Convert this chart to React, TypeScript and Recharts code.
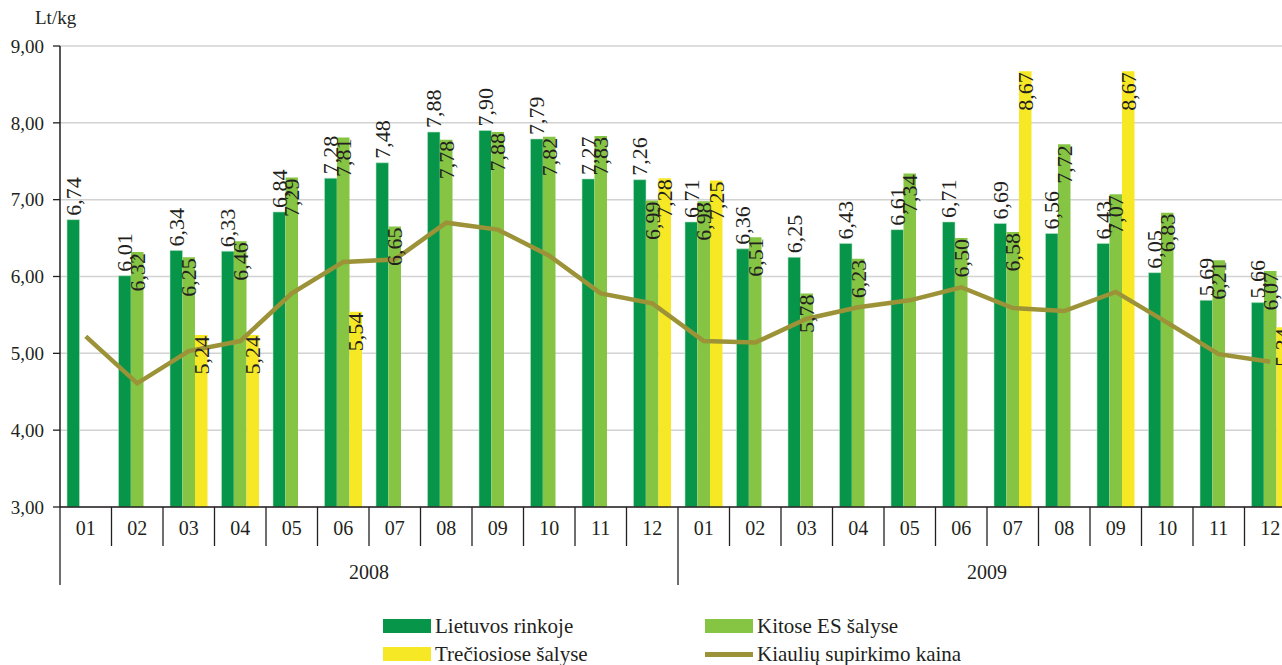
import {
  Bar,
  CartesianGrid,
  ComposedChart,
  LabelList,
  Legend,
  Line,
  XAxis,
  YAxis,
} from "recharts";

const years = ["2008", "2009"];
const months = ["01", "02", "03", "04", "05", "06", "07", "08", "09", "10", "11", "12"];

const lietuvos = [
  6.74, 6.01, 6.34, 6.33, 6.84, 7.28, 7.48, 7.88, 7.9, 7.79, 7.27, 7.26,
  6.71, 6.36, 6.25, 6.43, 6.61, 6.71, 6.69, 6.56, 6.43, 6.05, 5.69, 5.66,
];
const kitoseEs = [
  null, 6.32, 6.25, 6.46, 7.29, 7.81, 6.65, 7.78, 7.88, 7.82, 7.83, 6.99,
  6.98, 6.51, 5.78, 6.23, 7.34, 6.5, 6.58, 7.72, 7.07, 6.83, 6.21, 6.07,
];
const treciosios = [
  null, null, 5.24, 5.24, null, 5.54, null, null, null, null, null, 7.28,
  7.25, null, null, null, null, null, 8.67, null, 8.67, null, null, 5.34,
];
const supirkimoKaina = [
  5.22, 4.61, 5.03, 5.16, 5.78, 6.19, 6.22, 6.7, 6.61, 6.27, 5.78, 5.65,
  5.16, 5.14, 5.45, 5.6, 5.69, 5.86, 5.59, 5.55, 5.8, 5.4, 4.99, 4.89,
];
const yTicks = [3, 4, 5, 6, 7, 8, 9];
const legendOrder = [
  "Lietuvos rinkoje",
  "Kitose ES šalyse",
  "Trečiosiose šalyse",
  "Kiaulių supirkimo kaina",
];

const data = years.flatMap((year, yi) =>
  months.map((month, mi) => {
    const i = yi * 12 + mi;
    return {
      id: `${year}-${month}`,
      year,
      month,
      lietuvos: lietuvos[i],
      kitoseEs: kitoseEs[i],
      treciosios: treciosios[i],
      supirkimoKaina: supirkimoKaina[i],
    };
  })
);

const SERIF = "'Liberation Serif', 'Times New Roman', serif";
const TEXT = "#231f20";
const CHART_W = 1300;
const CHART_H = 665;
const AXIS_W = 60;
const RIGHT = 4;
const BAND = (CHART_W - AXIS_W - RIGHT) / data.length;

const fmt = (v: number) => v.toFixed(2).replace(".", ",");

function MonthTick({ x, y, payload, index }: any) {
  const row = data[index] ?? data[payload.index];
  const left = x - BAND / 2;
  const firstOfYear = row.month === "01";
  return (
    <g>
      <line
        x1={left}
        x2={left}
        y1={y}
        y2={y + (firstOfYear ? 78 : 39)}
        stroke={TEXT}
        strokeWidth={1.3}
      />
      <text x={x} y={y + 28} textAnchor="middle" fontFamily={SERIF} fontSize={20} fill={TEXT}>
        {row.month}
      </text>
      {row.month === "06" && (
        <text x={x + BAND / 2} y={y + 72} textAnchor="middle" fontFamily={SERIF} fontSize={20} fill={TEXT}>
          {row.year}
        </text>
      )}
    </g>
  );
}

function OutsideLabel({ x, y, width, value }: any) {
  if (value == null) return null;
  const cx = x + width / 2;
  const ty = y - 4;
  return (
    <text
      x={cx}
      y={ty}
      transform={`rotate(-90 ${cx} ${ty})`}
      textAnchor="start"
      dominantBaseline="central"
      fontFamily={SERIF}
      fontSize={22}
      fill={TEXT}
    >
      {fmt(value)}
    </text>
  );
}

function InsideLabel({ x, y, width, value }: any) {
  if (value == null) return null;
  const cx = x + width / 2;
  const ty = y + 1;
  return (
    <text
      x={cx}
      y={ty}
      transform={`rotate(-90 ${cx} ${ty})`}
      textAnchor="end"
      dominantBaseline="central"
      fontFamily={SERIF}
      fontSize={22}
      fill={TEXT}
    >
      {fmt(value)}
    </text>
  );
}

function UnitLabel() {
  return (
    <text x={35} y={24} fontFamily={SERIF} fontSize={19} fill={TEXT}>
      Lt/kg
    </text>
  );
}

function LegendBox({ payload }: any) {
  const cols = [383, 705];
  const rows = [626, 654];
  const items = [...(payload || [])].sort(
    (a: any, b: any) => legendOrder.indexOf(a.value) - legendOrder.indexOf(b.value)
  );
  return (
    <div style={{ position: "relative", width: 1282, height: 56 }}>
      {items.map((p: any, i: number) => {
        const left = cols[i % 2];
        const cy = rows[Math.floor(i / 2)] - 612;
        const isLine = p.type === "line";
        const sh = isLine ? 5 : 14;
        return (
          <div key={p.value}>
            <div
              style={{
                position: "absolute",
                left,
                top: cy - sh / 2,
                width: 48,
                height: sh,
                background: p.color,
              }}
            />
            <div
              style={{
                position: "absolute",
                left: left + 52,
                top: cy - 13,
                fontFamily: SERIF,
                fontSize: 21,
                lineHeight: "26px",
                color: TEXT,
                whiteSpace: "nowrap",
              }}
            >
              {p.value}
            </div>
          </div>
        );
      })}
    </div>
  );
}

export default function App() {
  return (
    <div
      style={{
        position: "fixed",
        left: 0,
        top: 0,
        width: 1282,
        height: 665,
        overflow: "hidden",
        background: "#fff",
      }}
    >
      <ComposedChart
        width={CHART_W}
        height={CHART_H}
        data={data}
        margin={{ top: 46, right: RIGHT, left: 0, bottom: 0 }}
        barGap={0}
      >
        <CartesianGrid vertical={false} stroke="#d2d2d2" strokeWidth={1.5} />
        <XAxis
          dataKey="id"
          height={158}
          interval={0}
          tickLine={false}
          tickSize={0}
          tickMargin={0}
          tick={<MonthTick />}
          axisLine={{ stroke: TEXT, strokeWidth: 1.5 }}
        />
        <YAxis
          width={AXIS_W}
          domain={[3, 9]}
          ticks={yTicks}
          tickFormatter={fmt}
          tickSize={7}
          tickMargin={9}
          tick={{ fontFamily: SERIF, fontSize: 19, fill: TEXT }}
          tickLine={{ stroke: TEXT, strokeWidth: 1.3 }}
          axisLine={{ stroke: TEXT, strokeWidth: 1.5 }}
          label={<UnitLabel />}
          allowDataOverflow
        />
        <Legend
          layout="horizontal"
          verticalAlign="middle"
          align="center"
          wrapperStyle={{ left: 0, top: 612, width: 1282 }}
          content={<LegendBox />}
        />
        <Bar
          dataKey="lietuvos"
          name="Lietuvos rinkoje"
          fill="#079649"
          stroke="#b9e2c6"
          strokeWidth={0.6}
          barSize={12.5}
          isAnimationActive={false}
        >
          <LabelList dataKey="lietuvos" content={<OutsideLabel />} />
        </Bar>
        <Bar
          dataKey="kitoseEs"
          name="Kitose ES šalyse"
          fill="#86c444"
          barSize={12.5}
          isAnimationActive={false}
        >
          <LabelList dataKey="kitoseEs" content={<InsideLabel />} />
        </Bar>
        <Bar
          dataKey="treciosios"
          name="Trečiosiose šalyse"
          fill="#f7e826"
          barSize={12.5}
          isAnimationActive={false}
        >
          <LabelList dataKey="treciosios" content={<InsideLabel />} />
        </Bar>
        <Line
          dataKey="supirkimoKaina"
          name="Kiaulių supirkimo kaina"
          type="linear"
          stroke="#9c9238"
          strokeWidth={4.5}
          dot={false}
          legendType="line"
          isAnimationActive={false}
        />
      </ComposedChart>
    </div>
  );
}
